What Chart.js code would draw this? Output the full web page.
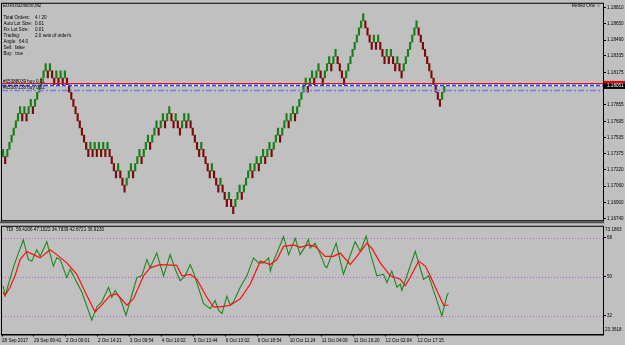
<!DOCTYPE html>
<html>
<head>
<meta charset="utf-8">
<script src="https://cdn.jsdelivr.net/npm/chart.js@4.4.1/dist/chart.umd.min.js"></script>
<style>
  body { margin: 0; background: #c0c0c0; width: 625px; height: 345px; overflow: hidden; position: relative; }
  canvas { position: absolute; left: 0; }
  #main { top: 0; }
  #tdi { top: 223px; }
</style>
</head>
<body>
<canvas id="main" width="625" height="224"></canvas>
<canvas id="tdi" width="625" height="122"></canvas>
<script>
// ---- data ----
const BOX = 0.0007;
const firstClose = 1.17419;
const brickDirs =
  'UDUUUUUUUD' + 'UDUUDUUUUU' + 'UDUDDUDUDU' + 'DDDDDDDDDD' + 'DUDUDUDUDU' +
  'DDDDUDDDUU' + 'UDUUUDUUUD' + 'UUUDUUDUUD' + 'DUDDUUDUDD' + 'DDDUDDDDUD' +
  'DDUDDDUDDU' + 'UUDUUUUDUU' + 'DUUDUUDUUU' + 'DUUUDUUDUU' + 'UUUDUUDUUD' +
  'DUUUDUUDDD' + 'DUUUUUUUUU' + 'DDDDUDUDDD' + 'UDUDDUDDUU' + 'UUUUUDDDDD' +
  'DDDDDDUU';

const priceTicks = [1.18810, 1.18650, 1.18490, 1.18335, 1.18175, 1.17855, 1.17695,
                    1.17535, 1.17375, 1.17220, 1.17060, 1.16900, 1.16740];
const priceMin = 1.16725, priceMax = 1.18846;
const askPrice = 1.18068;
const bidPrice = 1.18051;
const orderPrices = [1.18052, 1.17997];
const orderTexts = ['#65388039 buy 0.01', '#65387138 buy 0.01'];

const timeLabels = ['28 Sep 2017', '29 Sep 09:41', '2 Oct 00:01', '2 Oct 14:21', '3 Oct 09:54',
  '4 Oct 10:02', '5 Oct 13:44', '6 Oct 13:02', '6 Oct 18:54', '10 Oct 11:24',
  '11 Oct 04:09', '11 Oct 16:20', '12 Oct 02:04', '12 Oct 17:15'];
const barsPerLabel = 15;
const SLOTS = 282;

const tdiMin = 23.3618, tdiMax = 73.1863;
const tdiLevels = [32, 50, 68];
const tdiLast = ['59.4206', '47.1022', '34.7839', '42.6721', '36.9230'];

const greenBar = [0,1,5,9.5,11.9,13.5,15.8,17.4,20.5,23.6,25.2,26.8,29.9,31.5,33,37,41.6,44,46.3,49.5,
  51,52.6,55,57.7,62.8,65.1,67.5,69,72.1,75.3,78.4,80.8,83.1,85.4,87.8,89.4,94.1,97.2,99.5,101.1,
  102.7,105,106.6,108.1,111.3,114.4,117.5,119.9,122.2,124.6,125.4,126.9,131.6,134,137.1,139.4,
  141.8,143.3,144.1,146.4,148,151.1,151.9,156.3,159.7,165.2,167.6,170.4,172.3,175.4,178.5,180.1,
  182.4,184.8,186.4,187.1,193.4,197.3,199.7,205.9,208.3,209];
const greenVal = [45.9,41.4,55.0,67.1,58.0,57.3,62.5,59.5,66.3,55.0,58.8,58.0,49.7,53.5,50.5,42.9,30.0,36.1,38.4,45.2,
  40.6,43.7,39.9,32.3,49.7,50.5,58.0,54.2,61.0,50.5,60.3,53.5,48.2,50.5,55.7,52.0,37.6,35.3,39.1,34.6,
  33.1,41.1,36.9,38.4,45.2,50.5,58.8,56.5,56.5,58.8,52.7,57.3,68.6,60.3,67.8,60.3,
  64.1,67.4,63.3,65.6,62.5,55,54.2,65.6,51.2,66.3,61.8,68.9,61,50.5,51.2,47.4,
  52.7,45.2,46.7,43.7,61.8,48.9,50.5,32,41.4,42.7];
const redBar = [0,0.9,3.3,5.6,8,11.1,14.2,17.4,22.1,25.2,29.9,34.6,39.3,43.2,45.5,50.2,53.4,58.1,61.2,65.9,
  69,73.7,81.5,83.9,87.8,90.9,95.6,98.7,101.9,106.6,111.3,116,120.7,125.4,128.5,131.6,136.3,
  139.4,143.3,146.4,148.8,151.1,155,158.2,162.9,166,170.7,173,177,181.7,186.4,188.7,191,195,198.1,200.4,206.7,208.3,209];
const redVal = [42.9,41.4,45.2,50.5,58,61.8,60.3,58.8,62.5,60.3,56.5,51.2,41.4,33.8,36.1,41.4,42.1,36.9,39.9,50.5,
  54.2,55.7,55.3,50.5,51.2,48.9,40.6,36.1,36.1,36.9,39.9,46.7,57.3,55.7,58,64.1,64.8,
  63.7,64.8,64.1,61.8,59.5,59.5,61,55.7,59.5,65.6,63.3,56.5,50.5,48.9,45.9,49.7,57.3,55,50.5,36.9,36.9,36.9];

const infoLabels = ['Total Orders:', 'Auto Lot Size:', 'Fix Lot Size:', 'Trading:', 'Angle:', 'Sell:', 'Buy:'];
const infoValues = ['4 / 20', '0.01', '0.01', "2.0 sets of order's", '64.0', 'false', 'true'];

// ---- renko bricks: 2-box reversal ----
const bricks = [];
let close = firstClose, lastUp = null;
for (const d of brickDirs) {
  const up = d === 'U';
  if (lastUp !== null) close += (up ? 1 : -1) * BOX * (up === lastUp ? 1 : 2);
  bricks.push({ up, open: close + (up ? -BOX : BOX), close });
  lastUp = up;
}

const FONT = '"Liberation Sans", Arial, sans-serif';
const FS = 4.6;
Chart.defaults.font.family = FONT;
Chart.defaults.font.size = FS;
Chart.defaults.color = '#000';

const mainOverlay = {
  id: 'mainOverlay',
  afterDatasetsDraw(chart) {
    const { ctx, chartArea: a, scales: { y } } = chart;
    ctx.save();
    ctx.font = FS + 'px ' + FONT;
    ctx.textBaseline = 'middle';
    // ask line
    let py = Math.round(y.getPixelForValue(askPrice)) + 0.5;
    ctx.strokeStyle = '#ff0000'; ctx.lineWidth = 1; ctx.setLineDash([]);
    ctx.beginPath(); ctx.moveTo(a.left, py); ctx.lineTo(a.right, py); ctx.stroke();
    // bid line (white) + first order (blue dashed)
    py = Math.round(y.getPixelForValue(orderPrices[0])) + 0.5;
    ctx.strokeStyle = '#ffffff';
    ctx.beginPath(); ctx.moveTo(a.left, py); ctx.lineTo(a.right, py); ctx.stroke();
    ctx.strokeStyle = '#1e3cff'; ctx.lineWidth = 1.3; ctx.setLineDash([4, 2]);
    ctx.beginPath(); ctx.moveTo(a.left, py); ctx.lineTo(a.right, py); ctx.stroke();
    // second order (dash dot)
    py = Math.round(y.getPixelForValue(orderPrices[1])) + 0.5;
    ctx.strokeStyle = '#7d7de8'; ctx.lineWidth = 1.5; ctx.setLineDash([6, 2, 2, 2]);
    ctx.beginPath(); ctx.moveTo(a.left, py); ctx.lineTo(a.right, py); ctx.stroke();
    ctx.setLineDash([]);
    // order texts
    ctx.fillStyle = '#000';
    ctx.textAlign = 'left';
    ctx.fillText(orderTexts[0], 3, y.getPixelForValue(orderPrices[0]) - 3);
    ctx.fillText(orderTexts[1], 3, y.getPixelForValue(orderPrices[1]) - 2.5);
    // info block
    ctx.fillText('EURUSDmicro,M2', 3, 5.5);
    infoLabels.forEach((t, i) => {
      const ty = 17.3 + i * 6.05;
      if (i < 4) {
        ctx.fillText(t, 3.5, ty);
        ctx.fillText(infoValues[i], 35, ty);
      } else {
        ctx.fillText(t + '  ' + infoValues[i], 3.5, ty);
      }
    });
    // renko label
    ctx.textAlign = 'right';
    ctx.fillText('Renko One \u263A', 601, 5.5);
    ctx.restore();
  },
  afterDraw(chart) {
    const { ctx, chartArea: a, scales: { y } } = chart;
    ctx.save();
    ctx.strokeStyle = '#000'; ctx.lineWidth = 1;
    ctx.strokeRect(a.left - 0.5, a.top - 0.5, a.right - a.left + 1, a.bottom - a.top + 1);
    // current price box
    const py = y.getPixelForValue(bidPrice);
    ctx.fillStyle = '#e00000';
    ctx.fillRect(a.right + 1, py - 4, 22, 3);
    ctx.fillStyle = '#000';
    ctx.fillRect(a.right + 1, py - 1.5, 22, 5.5);
    ctx.fillStyle = '#fff';
    ctx.font = FS + 'px ' + FONT;
    ctx.textBaseline = 'middle'; ctx.textAlign = 'left';
    ctx.fillText(bidPrice.toFixed(5), a.right + 4, py + 1.3);
    // panel separator
    ctx.fillStyle = '#505050';
    ctx.fillRect(0, a.bottom + 1, a.right + 1, 2);
    ctx.restore();
  }
};

new Chart(document.getElementById('main'), {
  type: 'bar',
  data: {
    labels: Array.from({ length: SLOTS }, (_, i) => i),
    datasets: [{
      data: bricks.map(b => [b.open, b.close]),
      backgroundColor: bricks.map(b => b.up ? '#168016' : '#7c0a0a'),
      borderWidth: 0,
      barThickness: 1.5
    }]
  },
  options: {
    responsive: false,
    animation: false,
    devicePixelRatio: 1,
    layout: { padding: { left: 2, top: 2, right: 0, bottom: 2 } },
    plugins: { legend: { display: false }, tooltip: { enabled: false } },
    scales: {
      x: { type: 'category', display: false, offset: true },
      y: {
        position: 'right', min: priceMin, max: priceMax,
        afterBuildTicks: s => { s.ticks = priceTicks.map(v => ({ value: v })); },
        afterFit: s => { s.width = 22; },
        ticks: { padding: 1, callback: v => Number(v).toFixed(5) },
        grid: { drawOnChartArea: false, tickLength: 3, color: '#000' },
        border: { color: '#000' }
      }
    }
  },
  plugins: [mainOverlay]
});

const tdiOverlay = {
  id: 'tdiOverlay',
  beforeDatasetsDraw(chart) {
    const { ctx, chartArea: a, scales: { y } } = chart;
    ctx.save();
    ctx.strokeStyle = '#b65ad6'; ctx.lineWidth = 1; ctx.setLineDash([1, 2]);
    tdiLevels.forEach(v => {
      const py = Math.round(y.getPixelForValue(v)) + 0.5;
      ctx.beginPath(); ctx.moveTo(a.left, py); ctx.lineTo(a.right, py); ctx.stroke();
    });
    ctx.restore();
  },
  afterDraw(chart) {
    const { ctx, chartArea: a } = chart;
    ctx.save();
    ctx.strokeStyle = '#000'; ctx.lineWidth = 1;
    ctx.strokeRect(a.left - 0.5, a.top - 0.5, a.right - a.left + 1, a.bottom - a.top + 1);
    ctx.font = FS + 'px ' + FONT;
    ctx.fillStyle = '#000';
    ctx.textBaseline = 'middle'; ctx.textAlign = 'left';
    ctx.fillText('TDI  ' + tdiLast.join(' '), 6, a.top + 2.5);
    ctx.fillText(tdiMax.toFixed(4), a.right + 2, a.top + 2.5);
    ctx.fillText(tdiMin.toFixed(4), a.right + 2, a.bottom - 4.5);
    ctx.restore();
  }
};

new Chart(document.getElementById('tdi'), {
  type: 'line',
  data: {
    datasets: [
      { data: redBar.map((x, i) => ({ x, y: redVal[i] })), borderColor: '#ff0d0d', borderWidth: 1.2, pointRadius: 0, tension: 0 },
      { data: greenBar.map((x, i) => ({ x, y: greenVal[i] })), borderColor: '#1c871c', borderWidth: 1.1, pointRadius: 0, tension: 0 }
    ]
  },
  options: {
    responsive: false,
    animation: false,
    devicePixelRatio: 1,
    layout: { padding: { left: 2, top: 2, right: 0, bottom: 0 } },
    plugins: { legend: { display: false }, tooltip: { enabled: false } },
    scales: {
      x: {
        type: 'linear', min: -0.5, max: SLOTS - 0.5,
        afterBuildTicks: s => { s.ticks = timeLabels.map((_, k) => ({ value: k * barsPerLabel - 0.5 })); },
        afterFit: s => { s.height = 10.5; },
        ticks: { align: 'start', maxRotation: 0, autoSkip: false, padding: 1, callback: (v, i) => timeLabels[i] },
        grid: { drawOnChartArea: false, tickLength: 2, color: '#000' },
        border: { color: '#000' }
      },
      y: {
        position: 'right', min: tdiMin, max: tdiMax,
        afterBuildTicks: s => { s.ticks = tdiLevels.map(v => ({ value: v })); },
        afterFit: s => { s.width = 22; },
        ticks: { padding: 1, callback: v => String(v) },
        grid: { drawOnChartArea: false, tickLength: 3, color: '#000' },
        border: { color: '#000' }
      }
    }
  },
  plugins: [tdiOverlay]
});
</script>
</body>
</html>
